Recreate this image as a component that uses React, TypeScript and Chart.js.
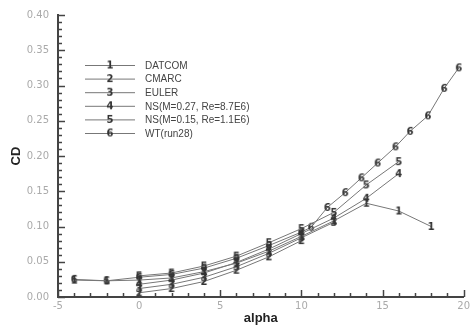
import React, { useEffect, useRef } from "react";
import { Chart, registerables } from "chart.js";

Chart.register(...registerables);

const seriesNames = [
  "DATCOM",
  "CMARC",
  "EULER",
  "NS(M=0.27, Re=8.7E6)",
  "NS(M=0.15, Re=1.1E6)",
  "WT(run28)",
];
const seriesSymbols = ["1", "2", "3", "4", "5", "6"];

const datcomAlpha = [-4, -2, 0, 2, 4, 6, 8, 10, 12, 14, 16, 18];
const datcomCD = [0.024, 0.023, 0.024, 0.027, 0.036, 0.048, 0.065, 0.086, 0.108, 0.133, 0.122, 0.1];

const cmarcAlpha = [0, 2, 4, 6, 8, 10];
const cmarcCD = [0.006, 0.012, 0.022, 0.038, 0.057, 0.08];

const eulerAlpha = [0, 2, 4, 6, 8, 10, 12];
const eulerCD = [0.012, 0.018, 0.028, 0.043, 0.062, 0.084, 0.106];

const ns27Alpha = [0, 2, 4, 6, 8, 10, 12, 14, 16];
const ns27CD = [0.018, 0.024, 0.034, 0.049, 0.068, 0.09, 0.112, 0.14, 0.175];

const ns15Alpha = [0, 2, 4, 6, 8, 10, 12, 14, 16];
const ns15CD = [0.03, 0.034, 0.044, 0.058, 0.077, 0.097, 0.12, 0.159, 0.192];

const wtAlpha = [-4, -2, 0, 2, 4, 6, 8, 10, 10.6, 11.6, 12.7, 13.7, 14.7, 15.8, 16.7, 17.8, 18.8, 19.7];
const wtCD = [0.025, 0.023, 0.028, 0.032, 0.041, 0.055, 0.073, 0.092, 0.099, 0.127, 0.148, 0.169, 0.19, 0.213, 0.235, 0.257, 0.296, 0.325];

const seriesAlpha = [datcomAlpha, cmarcAlpha, eulerAlpha, ns27Alpha, ns15Alpha, wtAlpha];
const seriesCD = [datcomCD, cmarcCD, eulerCD, ns27CD, ns15CD, wtCD];

const xMin = -5;
const xMax = 20;
const xStep = 5;
const yMin = 0;
const yMax = 0.4;
const yStep = 0.05;

function makeMarker(digit: string): HTMLCanvasElement {
  const c = document.createElement("canvas");
  c.width = 8;
  c.height = 11;
  const ctx = c.getContext("2d")!;
  ctx.fillStyle = "#333";
  ctx.font = 'bold 10px "DejaVu Sans"';
  ctx.textAlign = "center";
  ctx.textBaseline = "middle";
  ctx.fillText(digit, 4, 6);
  return c;
}

export default function App() {
  const ref = useRef<HTMLCanvasElement | null>(null);

  useEffect(() => {
    document.body.style.margin = "0";
    const canvas = ref.current;
    if (!canvas) return;
    const markers = seriesSymbols.map(makeMarker);

    const datasets = seriesNames.map((name, i) => ({
      label: name,
      data: seriesAlpha[i].map((a, j) => ({ x: a, y: seriesCD[i][j] })),
      borderColor: "#777",
      borderWidth: 1,
      pointStyle: markers[i],
      pointRadius: 4,
      showLine: true,
      fill: false,
    }));

    const ticksAndLegend = {
      id: "ticksAndLegend",
      afterDraw(chart: any) {
        const ctx = chart.ctx;
        const xs = chart.scales.x;
        const ys = chart.scales.y;
        const area = chart.chartArea;
        ctx.save();
        ctx.strokeStyle = "#444";
        ctx.lineWidth = 1.5;
        const nY = Math.round((yMax - yMin) / 0.01);
        for (let i = 0; i <= nY; i++) {
          const v = yMin + i * 0.01;
          const py = Math.round(ys.getPixelForValue(v)) + 0.5;
          const len = i % 5 === 0 ? 7 : 4;
          ctx.beginPath();
          ctx.moveTo(area.left, py);
          ctx.lineTo(area.left + len, py);
          ctx.stroke();
        }
        for (let v = xMin; v <= xMax; v++) {
          const px = Math.round(xs.getPixelForValue(v)) + 0.5;
          const len = v % 5 === 0 ? 7 : 4;
          ctx.beginPath();
          ctx.moveTo(px, area.bottom);
          ctx.lineTo(px, area.bottom - len);
          ctx.stroke();
        }
        const lx0 = area.left + 27;
        const lx1 = area.left + 77;
        const ly0 = 65;
        const dy = 13.6;
        ctx.font = '10px "Liberation Sans"';
        ctx.textBaseline = "middle";
        ctx.textAlign = "left";
        seriesNames.forEach((name, i) => {
          const y = ly0 + i * dy;
          ctx.strokeStyle = "#777";
          ctx.lineWidth = 1;
          ctx.beginPath();
          ctx.moveTo(lx0, y + 0.5);
          ctx.lineTo(lx1, y + 0.5);
          ctx.stroke();
          const m = markers[i];
          ctx.drawImage(m, (lx0 + lx1) / 2 - m.width / 2, y - m.height / 2);
          ctx.fillStyle = "#444";
          ctx.fillText(name, lx1 + 10, y + 1);
        });
        ctx.restore();
      },
    };

    const chart = new Chart(canvas, {
      type: "scatter",
      data: { datasets },
      options: {
        animation: false,
        responsive: false,
        maintainAspectRatio: false,
        layout: { padding: { top: 13, right: 7, left: 0, bottom: 0 } },
        plugins: {
          legend: { display: false },
          tooltip: { enabled: false },
        },
        scales: {
          x: {
            type: "linear",
            min: xMin,
            max: xMax,
            grid: { display: false, drawTicks: false },
            border: { display: true, color: "#444", width: 2 },
            ticks: {
              stepSize: xStep,
              color: "#aaa",
              font: { family: "DejaVu Sans", size: 10 },
              padding: 3,
              maxRotation: 0,
            },
            title: {
              display: true,
              text: "alpha",
              color: "#222",
              font: { family: "Liberation Sans", size: 13, weight: "bold" },
              padding: { top: 0, bottom: 2 },
            },
            afterFit(s: any) {
              s.height = 31;
            },
          },
          y: {
            type: "linear",
            min: yMin,
            max: yMax,
            grid: { display: false, drawTicks: false },
            border: { display: true, color: "#444", width: 2 },
            ticks: {
              stepSize: yStep,
              color: "#aaa",
              font: { family: "DejaVu Sans", size: 10 },
              padding: 9,
              callback: (v: any) => Number(v).toFixed(2),
            },
            title: {
              display: true,
              text: "CD",
              color: "#222",
              font: { family: "Liberation Sans", size: 13, weight: "bold" },
              padding: { top: 9, bottom: 0 },
            },
            afterFit(s: any) {
              s.width = 58;
            },
          },
        },
      },
      plugins: [ticksAndLegend],
    } as any);

    return () => chart.destroy();
  }, []);

  return (
    <div style={{ width: 473, height: 328 }}>
      <canvas ref={ref} width={473} height={328} />
    </div>
  );
}
